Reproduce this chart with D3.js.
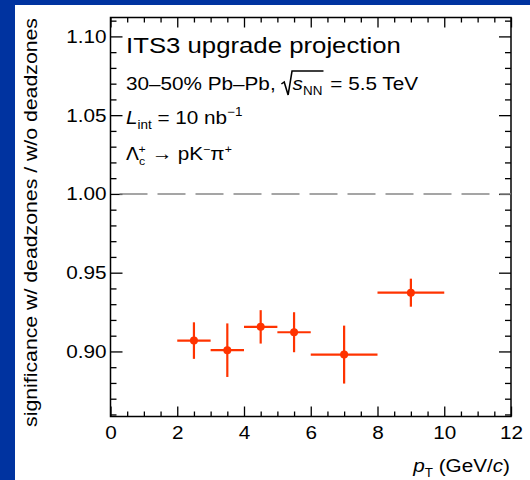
<!DOCTYPE html>
<html><head><meta charset="utf-8">
<script src="https://cdn.jsdelivr.net/npm/d3@7"></script>
<style>html,body{margin:0;padding:0;background:#fff;}svg{display:block;}</style>
</head><body>
<script>
const ptCenter = [2.5, 3.5, 4.5, 5.5, 7, 9];
const ptLow    = [2, 3, 4, 5, 6, 8];
const ptHigh   = [3, 4, 5, 6, 8, 10];
const ratio    = [0.9069, 0.9008, 0.9156, 0.9122, 0.8980, 0.9373];
const ratioErr = [0.0116, 0.0170, 0.0106, 0.0127, 0.0184, 0.0089];
const xTicks = [0, 2, 4, 6, 8, 10, 12];
const yTicks = [0.90, 0.95, 1.00, 1.05, 1.10];

const W = 530, H = 480;
const SX = 1.12;
const svg = d3.select("body").append("svg").attr("width", W).attr("height", H);
svg.append("rect").attr("width", W).attr("height", H).attr("fill", "#0033a0");
svg.append("rect").attr("x", 15).attr("y", 5).attr("width", W - 15).attr("height", H - 5).attr("fill", "#fff");

const L = 110.5, R = 511, T = 17.5, B = 416.5;
const x = d3.scaleLinear().domain([0, 12]).range([L, R]);
const y = d3.scaleLinear().domain([0.8587, 1.112]).range([B, T]);
const font = "'Liberation Sans', Arial, sans-serif";
const minorX = d3.range(0, 12.001, 0.5).filter(v => Math.abs(v / 2 - Math.round(v / 2)) > 1e-6);
const minorY = d3.range(0.86, 1.1101, 0.01).filter(v => Math.abs(v * 20 - Math.round(v * 20)) > 1e-6);

function styleAxis(g) {
  g.select(".domain").remove();
  g.selectAll("line").attr("stroke", "#000").attr("stroke-width", 1.3);
}
function styleLabels(g) {
  g.selectAll("text").attr("font-family", font).attr("font-size", 18.5).attr("fill", "#000")
    .each(function() {
      const t = d3.select(this);
      const tx = +t.attr("x") || 0, ty = +t.attr("y") || 0;
      t.attr("transform", `translate(${tx},${ty}) scale(${SX},1) translate(${-tx},${-ty})`);
    });
}
// bottom
svg.append("g").attr("transform", `translate(0,${B})`)
  .call(d3.axisBottom(x).tickValues(xTicks).tickSize(-10).tickPadding(9).tickFormat(d3.format("d")))
  .call(styleAxis).call(styleLabels);
svg.append("g").attr("transform", `translate(0,${B})`)
  .call(d3.axisBottom(x).tickValues(minorX).tickSize(-5).tickFormat("")).call(styleAxis);
// top
svg.append("g").attr("transform", `translate(0,${T})`)
  .call(d3.axisTop(x).tickValues(xTicks).tickSize(-10).tickFormat("")).call(styleAxis);
svg.append("g").attr("transform", `translate(0,${T})`)
  .call(d3.axisTop(x).tickValues(minorX).tickSize(-5).tickFormat("")).call(styleAxis);
// left
svg.append("g").attr("transform", `translate(${L},0)`)
  .call(d3.axisLeft(y).tickValues(yTicks).tickSize(-12).tickPadding(4).tickFormat(d3.format(".2f")))
  .call(styleAxis).call(styleLabels);
svg.append("g").attr("transform", `translate(${L},0)`)
  .call(d3.axisLeft(y).tickValues(minorY).tickSize(-6).tickFormat("")).call(styleAxis);
// right
svg.append("g").attr("transform", `translate(${R},0)`)
  .call(d3.axisRight(y).tickValues(yTicks).tickSize(-12).tickFormat("")).call(styleAxis);
svg.append("g").attr("transform", `translate(${R},0)`)
  .call(d3.axisRight(y).tickValues(minorY).tickSize(-6).tickFormat("")).call(styleAxis);
// frame
svg.append("rect").attr("x", L).attr("y", T).attr("width", R - L).attr("height", B - T)
  .attr("fill", "none").attr("stroke", "#000").attr("stroke-width", 1.5);

// dashed reference line
svg.append("line").attr("x1", L).attr("x2", R).attr("y1", y(1)).attr("y2", y(1))
  .attr("stroke", "#888").attr("stroke-width", 1.5).attr("stroke-dasharray", "28,10").attr("stroke-dashoffset", -9);

// data
const col = "#ff3300";
const data = ptCenter.map((c, i) => ({c, lo: ptLow[i], hi: ptHigh[i], v: ratio[i], e: ratioErr[i]}));
const pts = svg.append("g");
pts.selectAll(".h").data(data).join("line")
  .attr("x1", d => x(d.lo)).attr("x2", d => x(d.hi)).attr("y1", d => y(d.v)).attr("y2", d => y(d.v))
  .attr("stroke", col).attr("stroke-width", 2.2);
pts.selectAll(".v").data(data).join("line")
  .attr("x1", d => x(d.c)).attr("x2", d => x(d.c)).attr("y1", d => y(d.v - d.e)).attr("y2", d => y(d.v + d.e))
  .attr("stroke", col).attr("stroke-width", 2.2);
pts.selectAll("circle").data(data).join("circle")
  .attr("cx", d => x(d.c)).attr("cy", d => y(d.v)).attr("r", 4).attr("fill", col);

function stext(tx, ty, size, anchor, extra, sx) {
  const g = svg.append("g").attr("transform", `translate(${tx},${ty}) ${extra || ""} scale(${sx || SX},1)`);
  const t = g.append("text").attr("x", 0).attr("y", 0).attr("font-family", font).attr("font-size", size)
    .attr("text-anchor", anchor || "start");
  return [g, t];
}

// axis titles
stext(37, 18, 18.5, "end", "rotate(-90)", 1.15)[1].text("significance w/ deadzones / w/o deadzones");
const xt = stext(510, 472, 18.5, "end")[1];
xt.append("tspan").attr("font-style", "italic").text("p");
xt.append("tspan").attr("font-size", 12).attr("dy", 5).text("T");
xt.append("tspan").attr("dy", -5).text(" (GeV/");
xt.append("tspan").attr("font-style", "italic").text("c");
xt.append("tspan").text(")");

// annotations
stext(126, 53, 23, "start")[1].text("ITS3 upgrade projection");
const [g2, t2] = stext(126, 90, 18.5, "start");
t2.append("tspan").text("30–50% Pb–Pb, ");
t2.append("tspan").attr("dx", 10).attr("font-style", "italic").text("s");
t2.append("tspan").attr("font-size", 12).attr("dy", 5).text("NN");
t2.append("tspan").attr("dy", -5).attr("dx", 2).text(" = 5.5 TeV");
{
  const n = t2.node();
  const s0 = n.getStartPositionOfChar(14);
  const sEnd = n.getEndPositionOfChar(16);
  const xs = s0.x - 10;
  g2.append("path").attr("d",
    `M${xs},${-6} L${xs + 2.5},${-8} L${xs + 6},${5} L${xs + 9.5},${-19} L${sEnd.x + 1},${-19}`)
    .attr("fill", "none").attr("stroke", "#000").attr("stroke-width", 1.4);
}
const t3 = stext(126, 124, 18.5, "start")[1];
t3.append("tspan").attr("font-style", "italic").text("L");
t3.append("tspan").attr("font-size", 12).attr("dy", 5).text("int");
t3.append("tspan").attr("dy", -5).text(" = 10 nb");
t3.append("tspan").attr("font-size", 12).attr("dy", -8).text("−1");
const t4 = stext(126, 160, 18.5, "start")[1];
t4.append("tspan").attr("font-family", "'DejaVu Sans', sans-serif").attr("font-size", 17).text("Λ");
t4.append("tspan").attr("font-size", 11).attr("dy", 5).text("c");
t4.append("tspan").attr("font-size", 11).attr("dx", -6).attr("dy", -12).text("+");
t4.append("tspan").attr("dy", 7).text(" → pK");
t4.append("tspan").attr("font-size", 11).attr("dy", -7).text("−");
t4.append("tspan").attr("dy", 7).text("π");
t4.append("tspan").attr("font-size", 11).attr("dy", -7).text("+");
</script>
</body></html>
